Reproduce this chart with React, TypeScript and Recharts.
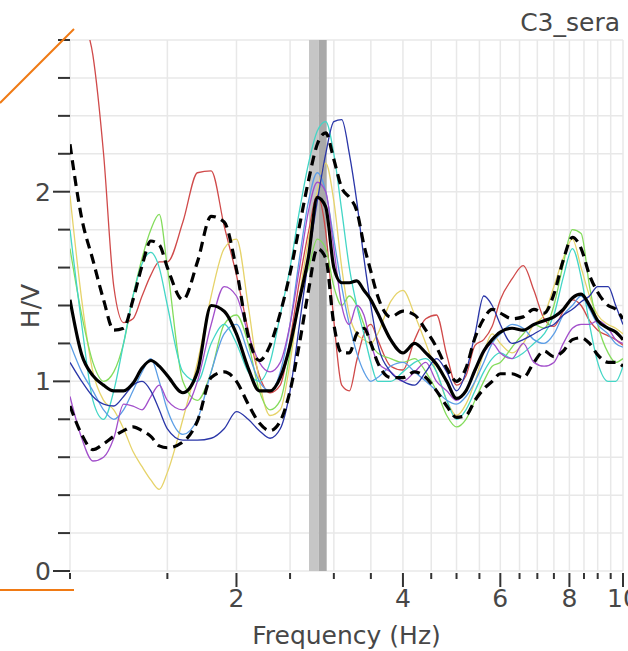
import { LineChart, Line, XAxis, YAxis, CartesianGrid, ReferenceArea, Label } from "recharts";

// frequency samples (Hz)
const FREQS = [
  1.0, 1.05, 1.1, 1.15, 1.2, 1.25, 1.3, 1.35, 1.4, 1.45, 1.5,
  1.6, 1.7, 1.8, 1.9, 2.0, 2.1, 2.2, 2.3, 2.4, 2.5, 2.6, 2.7, 2.8, 2.9, 3.0, 3.1, 3.2, 3.3, 3.4, 3.5, 3.6,
  3.8, 4.0, 4.2, 4.4, 4.6, 4.8, 5.0, 5.2, 5.4, 5.6, 5.8, 6.0,
  6.3, 6.6, 6.9, 7.2, 7.5, 7.8, 8.1, 8.4, 8.7,
  9.0, 9.4, 9.7, 10,
];

const MEAN = [
  1.43, 1.14, 1.03, 0.98, 0.95, 0.95, 0.99, 1.07, 1.11, 1.08, 1.03,
  0.94, 1.05, 1.4, 1.37, 1.25, 1.07, 0.95, 0.95, 1.02, 1.19, 1.43, 1.66, 1.97, 1.92, 1.6, 1.52, 1.52, 1.53, 1.48, 1.43, 1.36,
  1.22, 1.15, 1.2, 1.15, 1.09, 1.0, 0.91, 0.95, 1.06, 1.16, 1.22, 1.26,
  1.28, 1.27, 1.3, 1.32, 1.34, 1.38, 1.44, 1.46, 1.4,
  1.32, 1.28, 1.26, 1.22,
];

const UPPER = [
  2.25, 1.86, 1.64, 1.43, 1.27, 1.28, 1.43, 1.61, 1.74, 1.72, 1.6,
  1.43, 1.63, 1.87, 1.84, 1.59, 1.24, 1.11, 1.19, 1.36, 1.57, 1.82, 2.06, 2.25, 2.31, 2.17, 2.02, 1.97, 1.9, 1.72, 1.58, 1.45,
  1.34, 1.37, 1.35, 1.27, 1.18, 1.07, 1.0, 1.07, 1.23, 1.33, 1.38, 1.36,
  1.33, 1.34, 1.38, 1.36, 1.46, 1.64, 1.76, 1.7, 1.56,
  1.47, 1.4, 1.38, 1.33,
];

const LOWER = [
  0.87, 0.72, 0.64, 0.67, 0.71, 0.74, 0.76, 0.74, 0.71, 0.66, 0.65,
  0.68, 0.79, 1.02, 1.05, 1.0, 0.88, 0.78, 0.74, 0.79, 0.95, 1.2, 1.48, 1.7, 1.65, 1.3, 1.15, 1.15, 1.25, 1.28, 1.2, 1.1,
  1.02, 1.02, 1.05, 1.02, 0.95, 0.87, 0.81, 0.82, 0.9, 0.96, 1.0, 1.04,
  1.04, 1.02, 1.1, 1.16, 1.13, 1.16, 1.22, 1.23, 1.2,
  1.14, 1.1, 1.1, 1.08,
];

const RED = [
  3.3, 2.95, 2.72, 2.2, 1.5, 1.31, 1.33, 1.45, 1.56, 1.63, 1.63,
  1.84, 2.1, 2.11, 1.82, 1.56, 1.27, 1.03, 0.94, 0.98, 1.22, 1.53, 1.79, 1.98, 1.79, 1.32, 0.98, 0.95, 1.11, 1.25, 1.3, 1.22,
  1.08, 1.06, 1.22, 1.33, 1.35, 1.14, 0.98, 1.03, 1.19, 1.22, 1.29, 1.43,
  1.54, 1.61, 1.48, 1.33, 1.29, 1.37, 1.43, 1.4, 1.32,
  1.27, 1.24, 1.22, 1.19,
];

const YELLOW = [
  1.98, 1.43, 1.05, 0.9, 0.85, 0.75, 0.63, 0.55, 0.48, 0.43, 0.52,
  0.8, 1.1, 1.45, 1.7, 1.75, 1.4, 1.0, 0.82, 0.85, 1.1, 1.45, 1.75, 2.0, 2.15, 1.95, 1.6, 1.35, 1.25, 1.22, 1.2, 1.25,
  1.42, 1.48, 1.35, 1.2, 1.05, 0.9, 0.82, 0.88, 1.0, 1.15, 1.25, 1.2,
  1.15, 1.2, 1.3, 1.35, 1.5, 1.65, 1.75, 1.6, 1.45,
  1.35, 1.3, 1.28, 1.25,
];

const GREEN = [
  1.7, 1.35, 1.1, 1.0, 1.05, 1.2, 1.45, 1.65, 1.8, 1.88, 1.6,
  1.0, 0.9, 1.05, 1.3, 1.35, 1.2, 0.95, 0.85, 0.9, 1.15, 1.45, 1.6, 1.75, 1.7, 1.5, 1.4, 1.45, 1.4, 1.3, 1.2, 1.15,
  1.12, 1.1, 1.12, 1.05, 0.95, 0.82, 0.76, 0.8, 0.9, 1.0, 1.08, 1.1,
  1.18, 1.25, 1.3, 1.28, 1.4, 1.62, 1.8, 1.78, 1.5,
  1.3, 1.15, 1.1, 1.12,
];

const CYAN = [
  1.8, 1.3, 0.9, 0.8, 0.95, 1.2, 1.45, 1.62, 1.68, 1.6, 1.4,
  1.05, 1.0, 1.2, 1.3, 1.2, 1.05, 1.0, 1.1, 1.35, 1.6, 1.9, 2.15, 2.32, 2.37, 2.2, 1.9, 1.6, 1.4, 1.25, 1.1, 1.0,
  1.0, 1.05, 1.1, 1.12, 1.05, 0.9, 0.8, 0.85, 0.95, 1.05, 1.12, 1.15,
  1.12, 1.15, 1.2, 1.25, 1.35, 1.55, 1.7, 1.55, 1.3,
  1.1, 1.0, 1.0, 1.08,
];

const SKY = [
  1.2, 1.05, 0.95, 0.85, 0.8, 0.85, 0.95, 1.05, 1.12, 1.0, 0.85,
  0.72, 0.8, 1.05, 1.25, 1.3, 1.15, 1.0, 0.95, 1.05, 1.3, 1.65, 1.95, 2.1, 2.0, 1.75, 1.5, 1.3, 1.15, 1.05, 1.0, 1.02,
  1.08, 1.1, 1.05, 1.0, 0.95, 0.9, 0.88, 0.92, 1.0, 1.1, 1.2, 1.25,
  1.3, 1.28, 1.22, 1.2, 1.25, 1.35, 1.4, 1.45, 1.38,
  1.3, 1.25, 1.2, 1.18,
];

const PURPLE = [
  0.92, 0.7, 0.58, 0.6, 0.7, 0.88, 0.87, 0.85, 0.92, 0.98, 0.9,
  0.85, 1.0, 1.3, 1.5, 1.45, 1.25, 1.1, 1.05, 1.1, 1.3, 1.6, 1.9, 2.05, 2.0, 1.7, 1.4, 1.3, 1.4, 1.35, 1.2, 1.1,
  1.05, 1.0, 1.05, 1.1, 1.0, 0.95, 0.9, 0.95, 1.05, 1.15, 1.2, 1.15,
  1.12, 1.2, 1.1, 1.08, 1.1, 1.2, 1.28, 1.3, 1.3,
  1.32, 1.28, 1.22, 1.2,
];

const NAVY = [
  1.1, 1.0, 0.92, 0.88, 0.87, 0.92, 0.98, 1.0, 0.95, 0.85, 0.75,
  0.69, 0.69, 0.7, 0.75, 0.84, 0.8, 0.74, 0.7, 0.75, 0.95, 1.3, 1.65, 1.95, 2.2, 2.37, 2.38, 2.2, 1.95, 1.65, 1.4, 1.2,
  1.05, 1.0, 0.98, 1.05, 1.12, 1.05, 0.95, 1.05, 1.25, 1.45, 1.4, 1.3,
  1.2, 1.22, 1.25, 1.28, 1.3, 1.35, 1.38, 1.42, 1.45,
  1.5, 1.5, 1.4, 1.3,
];

const X_TICKS = [1, 1.5, 2, 2.5, 3, 3.5, 4, 4.5, 5, 5.5, 6, 6.5, 7, 7.5, 8, 8.5, 9, 9.5, 10];
const X_LABELS = [2, 4, 6, 8, 10];
const Y_TICKS = [0, 0.2, 0.4, 0.6, 0.8, 1, 1.2, 1.4, 1.6, 1.8, 2, 2.2, 2.4, 2.6, 2.8];
const Y_LABELS = [0, 1, 2];

// f0 band (Hz)
const BAND_LOW = [2.705, 2.817];
const BAND_HIGH = [2.817, 2.912];

const WINDOWS = [
  { key: "red", values: RED, color: "#d04a4a" },
  { key: "yellow", values: YELLOW, color: "#e6d36a" },
  { key: "green", values: GREEN, color: "#84dc5c" },
  { key: "cyan", values: CYAN, color: "#43d6c6" },
  { key: "sky", values: SKY, color: "#5c9ee6" },
  { key: "purple", values: PURPLE, color: "#a24fcb" },
  { key: "navy", values: NAVY, color: "#2a36a8" },
];

const data = FREQS.map((f, i) => {
  const row: any = { f, mean: MEAN[i], upper: UPPER[i], lower: LOWER[i] };
  WINDOWS.forEach(w => { row[w.key] = w.values[i]; });
  return row;
});

const FONT = "DejaVu Sans, Verdana, sans-serif";
const TEXT_COLOR = "#474747";

const XTick = (props: any) => {
  const { x, y, payload } = props;
  const major = X_LABELS.includes(payload.value);
  return (
    <g>
      <line x1={x} x2={x} y1={y + 2} y2={y + (major ? 16 : 8)} stroke="#333" strokeWidth={2} />
      {major && (
        <text x={x} y={y + 36} textAnchor="middle" fontSize={25} fontFamily={FONT} fill={TEXT_COLOR}>
          {payload.value}
        </text>
      )}
    </g>
  );
};

const YTick = (props: any) => {
  const { x, y, payload } = props;
  const major = Y_LABELS.includes(payload.value);
  return (
    <g>
      <line x1={x - (major ? 17 : 12)} x2={x} y1={y} y2={y} stroke="#333" strokeWidth={2} />
      {major && (
        <text x={x - 19} y={y} dy="0.36em" textAnchor="end" fontSize={25} fontFamily={FONT} fill={TEXT_COLOR}>
          {payload.value}
        </text>
      )}
    </g>
  );
};

export default function App() {
  return (
    <div style={{ position: "absolute", left: 0, top: 0, width: 628, height: 651, background: "#fff", overflow: "hidden" }}>
      <LineChart width={628} height={651} data={data} margin={{ top: 40, right: 5, bottom: 0, left: 0 }}>
        <CartesianGrid stroke="#e8e8e8" strokeWidth={1.5} />
        <XAxis
          dataKey="f"
          type="number"
          scale="log"
          domain={[1, 10]}
          allowDataOverflow
          ticks={X_TICKS}
          interval={0}
          tick={XTick}
          tickLine={false}
          axisLine={false}
          tickSize={0}
          tickMargin={0}
          height={80}
        >
          <Label value="Frequency (Hz)" position="insideBottom" offset={7} fontSize={25} fontFamily={FONT} fill={TEXT_COLOR} />
        </XAxis>
        <YAxis
          type="number"
          domain={[0, 2.8]}
          allowDataOverflow
          ticks={Y_TICKS}
          interval={0}
          tick={YTick}
          tickLine={false}
          axisLine={false}
          tickSize={0}
          tickMargin={0}
          width={70}
        >
          <Label
            content={() => (
              <text x={30} y={306} transform="rotate(-90 30 306)" textAnchor="middle" dominantBaseline="central" fontSize={25} fontFamily={FONT} fill={TEXT_COLOR}>
                H/V
              </text>
            )}
          />
        </YAxis>
        <ReferenceArea x1={BAND_LOW[0]} x2={BAND_LOW[1]} fill="#c6c6c6" fillOpacity={1} strokeOpacity={0} />
        <ReferenceArea x1={BAND_HIGH[0]} x2={BAND_HIGH[1]} fill="#a9a9a9" fillOpacity={1} strokeOpacity={0} />
        {WINDOWS.map(w => (
          <Line key={w.key} type="monotone" dataKey={w.key} stroke={w.color} strokeWidth={1.3} dot={false} isAnimationActive={false} />
        ))}
        <Line type="monotone" dataKey="upper" stroke="#000" strokeWidth={3.2} strokeDasharray="10 6" dot={false} isAnimationActive={false} />
        <Line type="monotone" dataKey="lower" stroke="#000" strokeWidth={3.2} strokeDasharray="10 6" dot={false} isAnimationActive={false} />
        <Line type="monotone" dataKey="mean" stroke="#000" strokeWidth={3.2} dot={false} isAnimationActive={false} />
      </LineChart>
      <svg width={628} height={651} style={{ position: "absolute", left: 0, top: 0, pointerEvents: "none" }}>
        <text x={620} y={31} textAnchor="end" fontSize={25} fontFamily={FONT} fill={TEXT_COLOR}>C3_sera</text>
        <line x1={0} y1={103} x2={74} y2={29} stroke="#f07a14" strokeWidth={2} />
        <line x1={0} y1={590} x2={74} y2={590} stroke="#f07a14" strokeWidth={2} />
      </svg>
    </div>
  );
}
